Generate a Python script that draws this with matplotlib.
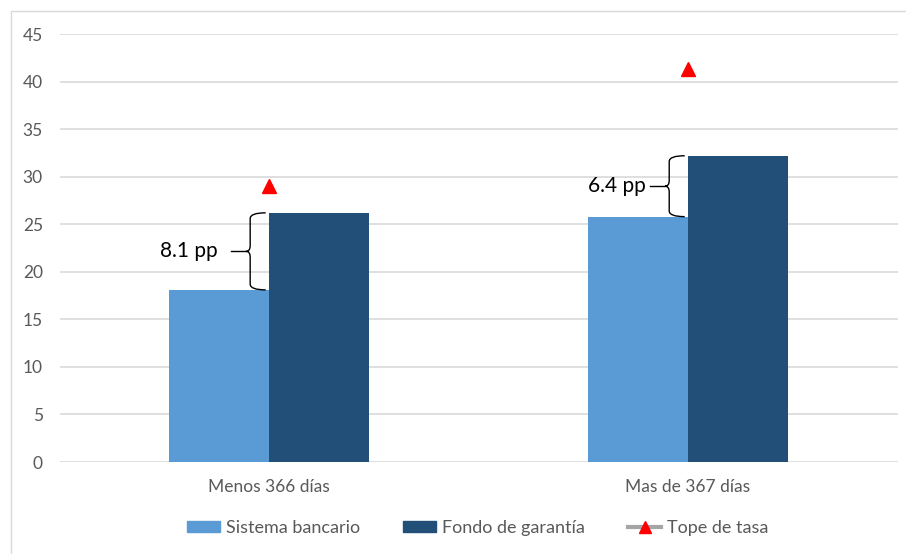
import numpy as np
import matplotlib
matplotlib.use("Agg")
import matplotlib.pyplot as plt
from matplotlib.path import Path
from matplotlib.patches import PathPatch, Rectangle
from matplotlib.lines import Line2D

plt.rcParams["font.family"] = ["Lato", "DejaVu Sans"]

categories = ["Menos 366 días", "Mas de 367 días"]
sistema_bancario = [18.1, 25.8]
fondo_garantia = [26.2, 32.2]
tope_tasa = [29.0, 41.3]
brecha_labels = ["8.1 pp", "6.4 pp"]

LIGHT = "#5B9BD5"
DARK = "#224F78"
GRID = "#D9D9D9"
TXT = "#595959"

fig = plt.figure(figsize=(9.06, 5.54), dpi=100)
ax = fig.add_axes([0.0657, 0.166, 0.925, 0.7726])

x = np.arange(len(categories))
w = 0.238
ax.bar(x - w / 2, sistema_bancario, w, color=LIGHT, label="Sistema bancario", zorder=2)
ax.bar(x + w / 2, fondo_garantia, w, color=DARK, label="Fondo de garantía", zorder=2)
ax.plot(x, tope_tasa, linestyle="none", marker="^", color="#FF0000",
        markersize=10, zorder=3)


def brace(ax, c, lo, hi, r=0.6):
    """Left-pointing curly brace spanning lo..hi just left of x=c."""
    xh, xv, xt = c - 0.008, c - 0.045, c - 0.055
    mid = (lo + hi) / 2
    verts = [(xh, hi), (xv, hi), (xv, hi - r),
             (xv, mid + r), (xv, mid), (xt, mid),
             (xv, mid), (xv, mid - r),
             (xv, lo + r), (xv, lo), (xh, lo)]
    codes = [Path.MOVETO, Path.CURVE3, Path.CURVE3,
             Path.LINETO, Path.CURVE3, Path.CURVE3,
             Path.CURVE3, Path.CURVE3,
             Path.LINETO, Path.CURVE3, Path.CURVE3]
    ax.add_patch(PathPatch(Path(verts, codes), fill=False, lw=1.0,
                           edgecolor="black", zorder=4))
    return xt, mid


text_offsets = [0.122, 0.1]
for i, c in enumerate(x):
    xt, mid = brace(ax, c, sistema_bancario[i], fondo_garantia[i])
    ax.plot([xt - 0.035, xt], [mid, mid], color="black", lw=1.0, zorder=4)
    ax.text(c - text_offsets[i], mid, brecha_labels[i], ha="right", va="center",
            fontsize=15, color="black")

ax.set_xlim(-0.5, 1.5)
ax.set_ylim(0, 45)
ax.set_yticks(range(0, 46, 5))
ax.set_xticks(x)
ax.set_xticklabels(categories)
ax.yaxis.grid(True, color=GRID, lw=1.2, zorder=0)
ax.set_axisbelow(True)
for s in ax.spines.values():
    s.set_visible(False)
ax.tick_params(axis="both", length=0, labelsize=12.5, labelcolor=TXT)
ax.tick_params(axis="y", pad=12)
ax.tick_params(axis="x", pad=12)

handles = [Rectangle((0, 0), 1, 1, color=LIGHT), Rectangle((0, 0), 1, 1, color=DARK),
           Line2D([0], [0], color="#A5A5A5", lw=3, marker="^",
                  markerfacecolor="#FF0000", markeredgecolor="#FF0000", markersize=9)]
fig.legend(handles, ["Sistema bancario", "Fondo de garantía", "Tope de tasa"],
           loc="center", bbox_to_anchor=(0.527, 0.047), ncol=3, frameon=False,
           fontsize=13, labelcolor=TXT, handlelength=1.85, handleheight=0.6,
           handletextpad=0.3, columnspacing=2.4)

# chart border (top and left edges visible)
fig.add_artist(Rectangle((10.5 / 906, -0.1), 1.2, 1 - 10.5 / 554 + 0.1,
                         transform=fig.transFigure, fill=False,
                         edgecolor=GRID, lw=1.0))

fig.savefig("out.png", dpi=100)
